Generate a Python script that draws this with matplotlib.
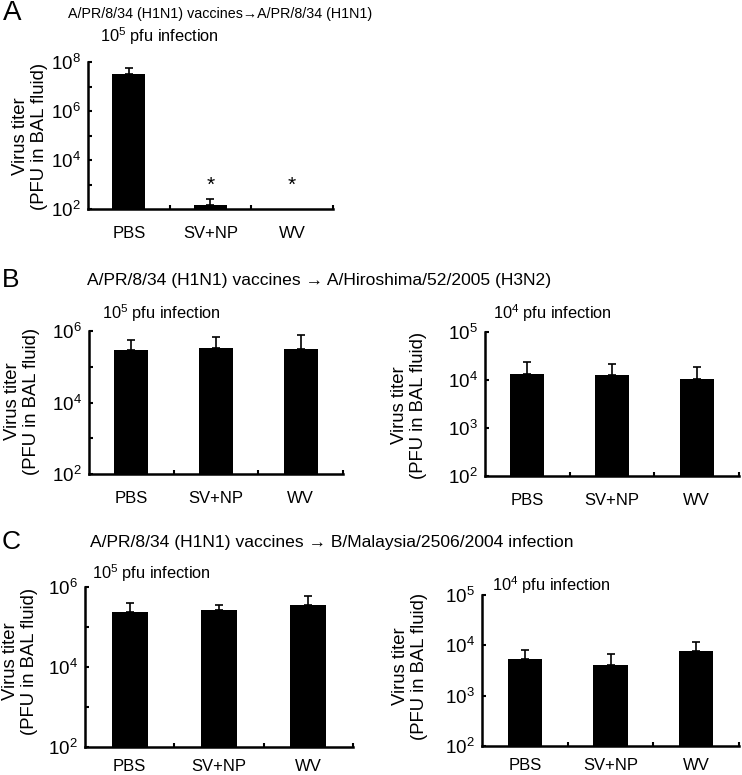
import matplotlib

matplotlib.use("Agg")
import matplotlib.pyplot as plt
import numpy as np
from matplotlib.ticker import FixedLocator, LogFormatterSciNotation, NullFormatter

plt.rcParams.update({
    "font.family": ["Liberation Sans", "DejaVu Sans"],
    "font.size": 10,
    "mathtext.default": "regular",
})

groups = ["PBS", "SV+NP", "WV"]

# titers (PFU in BAL fluid): bar value and upper end of error bar
a_val = [3.2e7, 1.4e2, 1.0e2]
a_err = [5.9e7, 2.6e2, np.nan]
a_sig = [False, True, True]

b5_val = [2.95e5, 3.4e5, 3.1e5]
b5_err = [5.5e5, 6.9e5, 7.6e5]
b4_val = [1.36e4, 1.29e4, 1.03e4]
b4_err = [2.4e4, 2.15e4, 1.86e4]

c5_val = [2.37e5, 2.7e5, 3.55e5]
c5_err = [3.9e5, 3.5e5, 5.8e5]
c4_val = [5.3e3, 4.0e3, 7.7e3]
c4_err = [8.1e3, 6.8e3, 1.18e4]

W, H = 742, 775
fig = plt.figure(figsize=(W / 100, H / 100), dpi=100)


def px_axes(left, right, top, bottom):
    return fig.add_axes([left / W, 1 - bottom / H, (right - left) / W, (bottom - top) / H])


def panel(ax, vals, errs, ymax_exp, labelled_exps, sig=None, xpad=12):
    x = np.arange(len(groups))
    vals = np.asarray(vals, dtype=float)
    errs = np.asarray(errs, dtype=float)
    ax.bar(x, vals - 1e2, bottom=1e2, width=0.4, color="black", zorder=2)
    up = np.where(np.isnan(errs), 0, errs - vals)
    mask = ~np.isnan(errs)
    ax.errorbar(x[mask], vals[mask], yerr=[np.zeros(mask.sum()), up[mask]],
                fmt="none", ecolor="black", elinewidth=1.2, capsize=2.8,
                capthick=1.2, zorder=1)
    if sig is not None:
        for xi, s in zip(x, sig):
            if s:
                ax.text(xi, 0.95e3, "*", ha="center", va="center", fontsize=15)
    ax.set_yscale("log")
    ax.set_ylim(1e2, 10 ** ymax_exp)
    ax.set_xlim(-0.5, 2.5)
    exps = list(range(2, ymax_exp + 1))
    ax.yaxis.set_major_locator(FixedLocator([10.0 ** e for e in exps]))
    fmt = LogFormatterSciNotation()
    ax.yaxis.set_major_formatter(
        plt.FuncFormatter(lambda v, p: fmt(v) if int(round(np.log10(v))) in labelled_exps else ""))
    ax.yaxis.set_minor_formatter(NullFormatter())
    ax.yaxis.set_minor_locator(FixedLocator([]))
    ax.set_xticks(x)
    ax.set_xticklabels(groups)
    ax.set_xticks([0.5, 1.5, 2.5], minor=True)
    ax.tick_params(axis="x", which="major", length=0, pad=xpad, labelsize=12)
    ax.tick_params(axis="x", which="minor", direction="in", length=3, width=1.5)
    ax.tick_params(axis="y", which="major", direction="in", length=3, width=1.5,
                   pad=5, labelsize=13.5)
    for s in ("top", "right"):
        ax.spines[s].set_visible(False)
    for s in ("left", "bottom"):
        ax.spines[s].set_linewidth(1.8)


def ytitle(xc, yc):
    fig.text(xc / W, 1 - yc / H, "Virus titer\n(PFU in BAL fluid)", rotation=90,
             ha="center", va="center", multialignment="center", fontsize=13.3,
             linespacing=1.15)


def label(x, y, s, size=10, **kw):
    fig.text(x / W, 1 - y / H, s, ha="left", va="center", fontsize=size, **kw)


# Panel A
axA = px_axes(88, 333, 62, 209)
panel(axA, a_val, a_err, 8, [2, 4, 6, 8], sig=a_sig)
label(3, 13, "A", 20)
label(68, 14, "A/PR/8/34 (H1N1) vaccines\u2192A/PR/8/34 (H1N1)", 10.3)
label(100, 36, "10$^5$ pfu infection", 11.8)
ytitle(30, 136)

# Panel B
axB1 = px_axes(89, 343, 331, 474)
panel(axB1, b5_val, b5_err, 6, [2, 4, 6])
axB2 = px_axes(485, 739, 332, 476)
panel(axB2, b4_val, b4_err, 5, [2, 3, 4, 5])
label(2, 280, "B", 19)
label(87, 281, "A/PR/8/34 (H1N1) vaccines \u2192 A/Hiroshima/52/2005 (H3N2)", 12.6)
label(102, 313, "10$^5$ pfu infection", 11.8)
label(493, 313, "10$^4$ pfu infection", 11.8)
ytitle(22, 401)
ytitle(409, 405)

# Panel C
axC1 = px_axes(85, 353, 587, 747)
panel(axC1, c5_val, c5_err, 6, [2, 4, 6], xpad=8.5)
axC2 = px_axes(482, 739, 595, 746)
panel(axC2, c4_val, c4_err, 5, [2, 3, 4, 5], xpad=8.5)
label(2, 542, "C", 19)
label(90, 543, "A/PR/8/34 (H1N1) vaccines \u2192 B/Malaysia/2506/2004 infection", 12.6)
label(92, 573, "10$^5$ pfu infection", 11.8)
label(492, 585, "10$^4$ pfu infection", 11.8)
ytitle(20, 661)
ytitle(410, 666)

fig.savefig("out.png", dpi=100)
